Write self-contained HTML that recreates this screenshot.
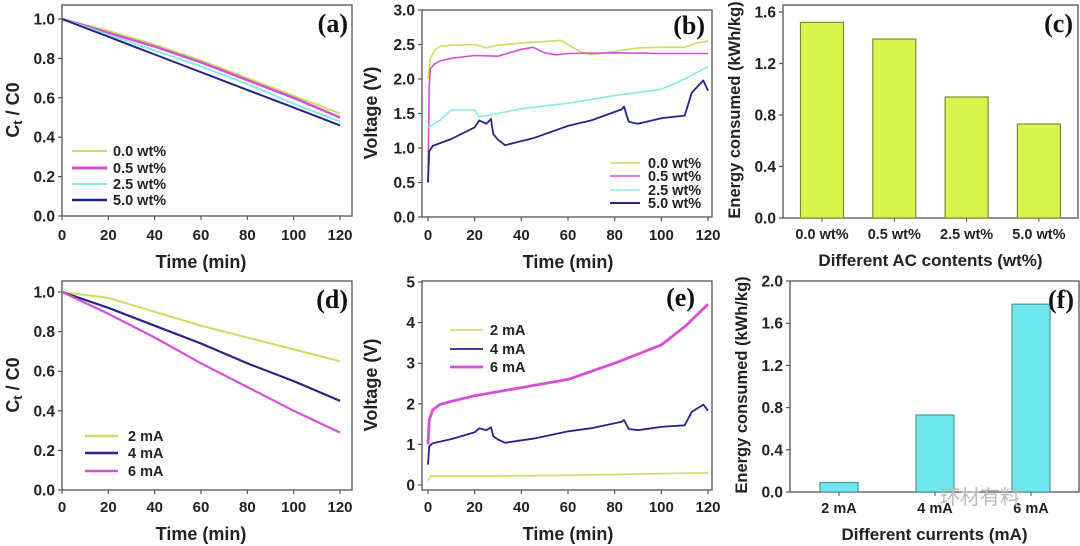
<!DOCTYPE html>
<html><head><meta charset="utf-8"><style>
html,body{margin:0;padding:0;background:#fff;}
svg{display:block;font-family:"Liberation Sans",sans-serif;font-weight:bold;}
</style></head><body>
<svg id="fig" width="1080" height="546" viewBox="0 0 1080 546" xmlns="http://www.w3.org/2000/svg"></svg>
<script>
// ---- data ----
const tickTime = [0,20,40,60,80,100,120];
const aTimes = [0,20,40,60,80,100,120];
const aS00 = [1.0,0.94,0.87,0.79,0.70,0.61,0.52];
const aS05 = [1.0,0.93,0.86,0.78,0.69,0.60,0.50];
const aS25 = [1.0,0.92,0.84,0.76,0.67,0.57,0.48];
const aS50 = [1.0,0.91,0.82,0.73,0.64,0.55,0.46];
const dS2 = [1.0,0.97,0.90,0.83,0.77,0.71,0.65];
const dS4 = [1.0,0.92,0.83,0.74,0.64,0.55,0.45];
const dS6 = [1.0,0.89,0.77,0.64,0.52,0.40,0.29];
const bT00 = [0,1,3,5,10,20,25,30,40,57,60,65,70,80,90,100,110,115,120];
const bV00 = [2.0,2.3,2.42,2.47,2.49,2.5,2.45,2.49,2.52,2.56,2.5,2.4,2.35,2.4,2.45,2.46,2.46,2.52,2.55];
const bT05 = [0,0.5,1,3,5,10,20,30,40,45,50,55,60,80,100,120];
const bV05 = [0.5,1.9,2.15,2.22,2.26,2.3,2.34,2.33,2.43,2.46,2.38,2.35,2.37,2.38,2.37,2.37];
const bT25 = [0,5,10,20,22,30,40,60,80,100,110,120];
const bV25 = [1.3,1.4,1.55,1.55,1.45,1.5,1.57,1.65,1.76,1.85,2.0,2.18];
const bT50 = [0,0.5,2,10,20,22,25,27,28,30,33,40,45,60,70,83,84,86,90,100,102,110,113,118,120];
const bV50 = [0.5,0.95,1.03,1.13,1.3,1.4,1.35,1.42,1.2,1.12,1.04,1.1,1.14,1.32,1.4,1.56,1.6,1.38,1.35,1.43,1.44,1.47,1.8,1.98,1.83];
const eT6 = [0,0.5,2,5,10,20,40,60,80,100,110,120];
const eV6 = [1.0,1.6,1.85,1.98,2.06,2.2,2.4,2.6,3.0,3.45,3.9,4.45];
const eT2 = [0,1,20,60,100,120];
const eV2 = [0.1,0.22,0.22,0.24,0.28,0.3];
const cCats = ["0.0 wt%","0.5 wt%","2.5 wt%","5.0 wt%"];
const cVals = [1.52,1.39,0.94,0.73];
const fCats = ["2 mA","4 mA","6 mA"];
const fVals = [0.09,0.73,1.78];
const ctTicks = [0,0.2,0.4,0.6,0.8,1.0];
const ctLabels = ["0.0","0.2","0.4","0.6","0.8","1.0"];
const bTicks = [0,0.5,1,1.5,2,2.5,3];
const bLabels = ["0.0","0.5","1.0","1.5","2.0","2.5","3.0"];
const eTicks = [0,1,2,3,4,5];
const eLabels = ["0","1","2","3","4","5"];
const cTicks = [0,0.4,0.8,1.2,1.6];
const cLabels = ["0.0","0.4","0.8","1.2","1.6"];
const fTicks = [0,0.4,0.8,1.2,1.6,2.0];
const fLabels = ["0.0","0.4","0.8","1.2","1.6","2.0"];

const GREEN="#c6e060", MAG="#d84ed8", CYAN="#86ece6", NAVY="#262688";
const NS="http://www.w3.org/2000/svg";
const svg=document.getElementById('fig');
function mk(tag,attrs,parent,text){const e=document.createElementNS(NS,tag);for(const k in attrs)e.setAttribute(k,attrs[k]);if(text!==undefined)e.textContent=text;(parent||svg).appendChild(e);return e;}

function frame(p,name){
  const g=mk('g',{});
  
  
  const r=mk('rect',{x:p.L,y:p.T,width:p.R-p.L,height:p.B-p.T,fill:'none',stroke:'#555','stroke-width':1.3},g);
  
  
  return g;
}
function yAxis(g,p,ys,ticks,labels,title,tx,tcy,sub,fs){
  ticks.forEach((v,i)=>{
    const y=ys(v);
    mk('line',{x1:p.L-4,x2:p.L,y1:y,y2:y,stroke:'#555','stroke-width':1.2},g);
    const t=mk('text',{x:p.L-7,y:y+5.5,'text-anchor':'end','font-size':15.5,fill:'#222'},g,labels[i]);
    
    
  });
  const t=mk('text',{x:tx,y:tcy,'text-anchor':'middle','font-size':fs||18,fill:'#222',transform:`rotate(-90 ${tx} ${tcy})`},g);
  
  
  if(sub){
    mk('tspan',{},t,'C');mk('tspan',{'font-size':13,dy:3},t,'t');mk('tspan',{dy:-3},t,' / C0');
  } else t.textContent=title;
}
function xAxisTime(g,p,xs,labY){
  tickTime.forEach(v=>{
    const x=xs(v);
    mk('line',{x1:x,x2:x,y1:p.B,y2:p.B+4,stroke:'#555','stroke-width':1.2},g);
    const t=mk('text',{x:x,y:labY,'text-anchor':'middle','font-size':15,fill:'#222'},g,String(v));
    
    
  });
  const t=mk('text',{x:(xs(0)+xs(120))/2,y:labY+28,'text-anchor':'middle','font-size':18,fill:'#222'},g,'Time (min)');
  
  
}
function panelLabel(g,x,y,s){
  const t=mk('text',{x:x,y:y,'text-anchor':'end','font-size':26,'font-family':'Liberation Serif, serif','font-weight':'bold',fill:'#111'},g,s);
  
  
}
function series(g,xs,ys,T,V,color,w,name){
  const pts=T.map((t,i)=>xs(t).toFixed(1)+','+ys(V[i]).toFixed(1)).join(' ');
  const l=mk('polyline',{points:pts,fill:'none',stroke:color,'stroke-width':w,'stroke-linejoin':'round'},g);
  
  
}
function legend(g,x1,x2,tx,rows,items){
  items.forEach((it,i)=>{
    const e=mk('g',{},g);
    
    
    mk('line',{x1:x1,x2:x2,y1:rows[i],y2:rows[i],stroke:it[1],'stroke-width':it[2]},e);
    mk('text',{x:tx,y:rows[i]+5,'font-size':14.5,fill:'#222'},e,it[0]);
  });
}
function lin(d0,d1,p0,p1){return v=>p0+(v-d0)*(p1-p0)/(d1-d0);}

// (a)
{const p={L:62,T:5,R:352,B:216};const g=frame(p,'panel-a');
 const xs=lin(0,120,62,340), ys=lin(0,1,216,19);
 yAxis(g,p,ys,ctTicks,ctLabels,'',19,110,true); xAxisTime(g,p,xs,240);
 series(g,xs,ys,aTimes,aS00,GREEN,2,'line-0-0-wt');
 series(g,xs,ys,aTimes,aS05,MAG,2.5,'line-0-5-wt');
 series(g,xs,ys,aTimes,aS25,CYAN,2,'line-2-5-wt');
 series(g,xs,ys,aTimes,aS50,NAVY,2,'line-5-0-wt');
 legend(g,72,107,113,[151,168,184,200],[["0.0 wt%",GREEN,2],["0.5 wt%",MAG,3],["2.5 wt%",CYAN,2],["5.0 wt%",NAVY,2.5]]);
 panelLabel(g,348,32,'(a)');}
// (b)
{const p={L:422,T:10,R:712,B:217};const g=frame(p,'panel-b');
 const xs=lin(0,120,428,708), ys=lin(0,3,217,10);
 yAxis(g,p,ys,bTicks,bLabels,'Voltage (V)',377,113); xAxisTime(g,p,xs,240);
 series(g,xs,ys,bT00,bV00,GREEN,1.6,'line-0-0-wt');
 series(g,xs,ys,bT05,bV05,MAG,1.6,'line-0-5-wt');
 series(g,xs,ys,bT25,bV25,CYAN,1.6,'line-2-5-wt');
 series(g,xs,ys,bT50,bV50,NAVY,1.8,'line-5-0-wt');
 legend(g,610,640,648,[163,176,190,203],[["0.0 wt%",GREEN,1.6],["0.5 wt%",MAG,1.6],["2.5 wt%",CYAN,1.6],["5.0 wt%",NAVY,2]]);
 panelLabel(g,705,34,'(b)');}
// bars
function bars(p,name,ys,ticks,labels,cats,vals,centers,bw,fill,stroke,xtitle,tcy,labY,lab){
  const g=frame(p,name);
  yAxis(g,p,ys,ticks,labels,'Energy consumed (kWh/kg)',p.L-43,tcy,false,16.5);
  cats.forEach((c,i)=>{
    const x=centers(i);
    const r=mk('rect',{x:x-bw/2,y:ys(vals[i]),width:bw,height:ys(0)-ys(vals[i]),fill:fill,stroke:stroke,'stroke-width':1.2},g);
    
    
    mk('line',{x1:x,x2:x,y1:p.B,y2:p.B+4,stroke:'#555'},g);
    const t=mk('text',{x:x,y:labY,'text-anchor':'middle','font-size':14.5,fill:'#222'},g,c);
    
    
  });
  const t=mk('text',{x:(p.L+p.R)/2,y:labY+27,'text-anchor':'middle','font-size':17,fill:'#222'},g,xtitle);
  
  
  panelLabel(g,p.R-5,lab,name==='panel-c'?'(c)':'(f)');
  return g;
}
bars({L:783,T:5,R:1078,B:218},'panel-c',lin(0,1.6,218,12),cTicks,cLabels,cCats,cVals,i=>822+i*72.3,43,'#d8f54c','#7d8a3e','Different AC contents (wt%)',110,239,32);
// (d)
{const p={L:62,T:281,R:352,B:490};const g=frame(p,'panel-d');
 const xs=lin(0,120,62,340), ys=lin(0,1,490,292);
 yAxis(g,p,ys,ctTicks,ctLabels,'',19,385,true); xAxisTime(g,p,xs,512);
 series(g,xs,ys,aTimes,dS2,GREEN,2,'line-2-ma');
 series(g,xs,ys,aTimes,dS4,NAVY,2.2,'line-4-ma');
 series(g,xs,ys,aTimes,dS6,MAG,2.2,'line-6-ma');
 legend(g,85,118,128,[436,453,471],[["2 mA",GREEN,2.5],["4 mA",NAVY,2.5],["6 mA",MAG,2.5]]);
 panelLabel(g,348,308,'(d)');}
// (e)
{const p={L:422,T:281,R:712,B:490};const g=frame(p,'panel-e');
 const xs=lin(0,120,428,708), ys=lin(0,5,485,282);
 yAxis(g,p,ys,eTicks,eLabels,'Voltage (V)',377,385); xAxisTime(g,p,xs,512);
 series(g,xs,ys,eT2,eV2,GREEN,1.6,'line-2-ma');
 series(g,xs,ys,bT50,bV50,NAVY,1.8,'line-4-ma');
 series(g,xs,ys,eT6,eV6,MAG,2.8,'line-6-ma');
 legend(g,450,483,490,[330,349,367],[["2 mA",GREEN,1.6],["4 mA",NAVY,1.8],["6 mA",MAG,2.8]]);
 panelLabel(g,695,306,'(e)');}
// (f)
{const g=bars({L:790,T:281,R:1079,B:492},'panel-f',lin(0,2.0,492,281),fTicks,fLabels,fCats,fVals,i=>839+i*96,38,'#6ee8ee','#4a9898','Different currents (mA)',385,513,308);
 const w=mk('text',{x:940,y:504,'font-size':20,fill:'#bbb','font-weight':'normal','font-family':'Liberation Sans, Noto Sans CJK SC, sans-serif'},g,'环材有料');
 
 }
</script>
</body></html>
